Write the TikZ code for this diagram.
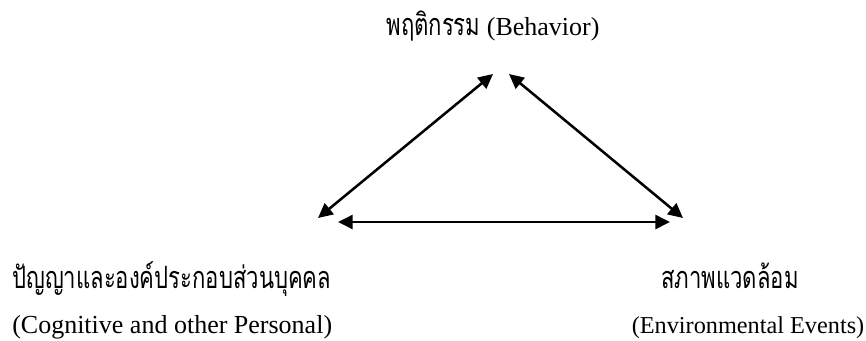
\documentclass[tikz,border=0pt]{standalone}
\usepackage{fontspec}
\setmainfont{Liberation Serif}
\newfontfamily\thaifont[Script=Thai,FakeStretch=0.72]{Loma}
\usetikzlibrary{arrows.meta}
\newcommand\thaitxt[1]{{\thaifont\fontsize{23}{26}\selectfont #1}}

\begin{document}
\begin{tikzpicture}[x=0.75pt,y=-0.75pt,
		txt/.style={inner sep=0pt,font=\fontsize{19.5}{23}\selectfont},
		link/.style={{Triangle[length=11pt,width=10.5pt]}-{Triangle[length=11pt,width=10.5pt]},line width=1.9pt}]
		\useasboundingbox (0,0) rectangle (866,340);
		
		\node[txt,anchor=base] (behavior) at (493,35) {\thaitxt{พฤติกรรม} (Behavior)} ;
		\node[txt,anchor=base west] (personal) at (12,288) {\thaitxt{ปัญญาและองค์ประกอบส่วนบุคคล}} ;
		\node[txt,anchor=base west] (personal_en) at (12,333) {(Cognitive and other Personal)} ;
		\node[txt,anchor=base] (environment) at (730,288) {\thaitxt{สภาพแวดล้อม}} ;
		\node[txt,anchor=base,font=\fontsize{18.2}{22}\selectfont] (environment_en) at (748,333) {(Environmental Events)} ;
		
		\coordinate (behavior_l) at (493,74) ;
		\coordinate (behavior_r) at (509,74) ;
		\coordinate (personal_t) at (318,218) ;
		\coordinate (personal_r) at (338,222) ;
		\coordinate (environment_t) at (683,218) ;
		\coordinate (environment_l) at (670,222) ;
		
		\draw[link] (personal_t) -- (behavior_l) ;
		\draw[link] (behavior_r) -- (environment_t) ;
		\draw[link] (personal_r) -- (environment_l) ;
	\end{tikzpicture}
\end{document}
